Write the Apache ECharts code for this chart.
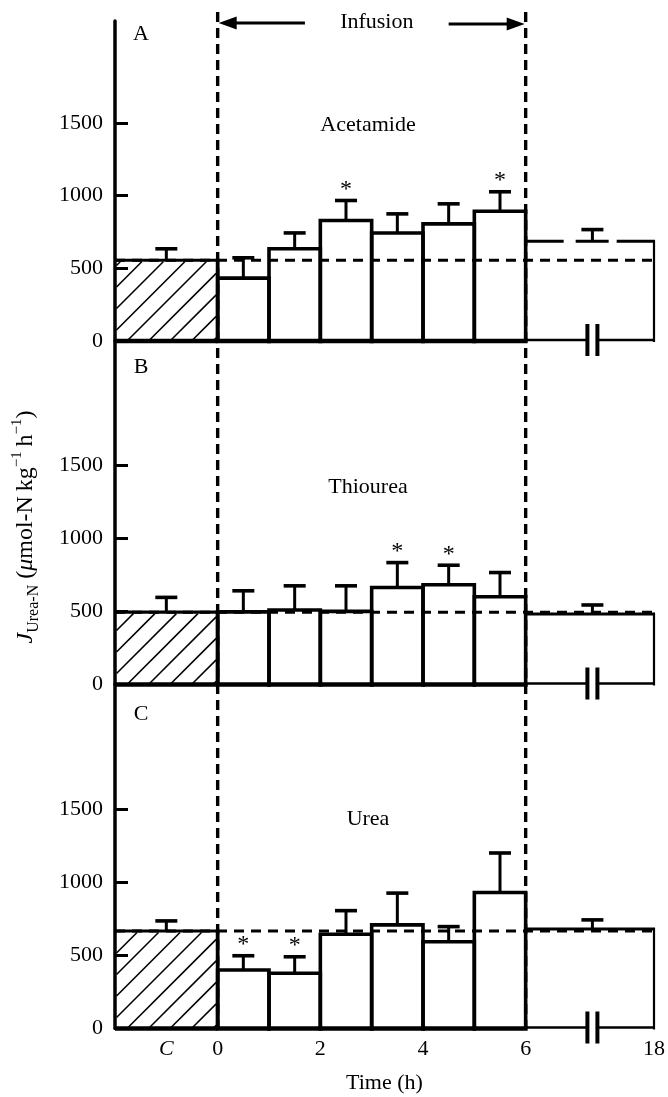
<!DOCTYPE html>
<html>
<head>
<meta charset="utf-8">
<script src="https://cdn.jsdelivr.net/npm/echarts@6/dist/echarts.min.js"></script>
<style>
  html, body { margin: 0; padding: 0; background: #fff; }
  #chart { width: 668px; height: 1097px; }
</style>
</head>
<body>
<div id="chart"></div>
<script>
// Urea-N excretion rate during control, 6 h infusion (hourly) and the 6-18 h post-infusion period
const SERIF = '"Liberation Serif", "Times New Roman", serif';

const yTickValues = [0, 500, 1000, 1500];
const xLabelValues = [-1, 0, 2, 4, 6, 8.5];
const xLabelTexts = ['C', '0', '2', '4', '6', '18'];

const panelLetters = ['A', 'B', 'C'];
const panelNames = ['Acetamide', 'Thiourea', 'Urea'];

// time slots on the x scale: control block, six hourly blocks, post-infusion block (axis broken, ends at 18 h)
const slotStart = [-2, 0, 1, 2, 3, 4, 5, 6];
const slotEnd   = [0, 1, 2, 3, 4, 5, 6, 8.5];
const errorAt   = [-1, 0.5, 1.5, 2.5, 3.5, 4.5, 5.5, 7.3];
const axisBreakAt = 7.3;

// mean ± s.e.m. (µmol-N kg-1 h-1); sig = 1 marks significant difference from control
const acetamideMean = [555, 432, 634, 828, 743, 805, 892, 685];
const acetamideSem  = [79, 140, 109, 138, 131, 138, 134, 81];
const acetamideSig  = [0, 0, 0, 1, 0, 0, 1, 0];

const thioureaMean = [495, 497, 510, 500, 664, 682, 600, 483];
const thioureaSem  = [101, 144, 165, 175, 170, 134, 166, 61];
const thioureaSig  = [0, 0, 0, 0, 1, 1, 0, 0];

const ureaMean = [666, 400, 377, 644, 708, 593, 929, 680];
const ureaSem  = [69, 97, 113, 161, 217, 103, 270, 62];
const ureaSig  = [0, 1, 1, 0, 0, 0, 0, 0];

const panelMeans = [acetamideMean, thioureaMean, ureaMean];
const panelSems = [acetamideSem, thioureaSem, ureaSem];
const panelSigs = [acetamideSig, thioureaSig, ureaSig];

// layout of the three stacked panels
const gridLeft = 115, gridRight = 14;
const gridTop = [21, 341, 684.5];
const gridHeight = [320, 343.5, 344];
const yMax = [2200, 2350, 2350];

function buildData(p) {
  return slotStart.map((s, i) => [
    s, slotEnd[i], panelMeans[p][i], panelSems[p][i], errorAt[i], panelSigs[p][i],
    i === 0 ? 0 : (i === slotStart.length - 1 ? 2 : 1)
  ]);
}

function makeBarRenderer(brokenTop) {
  return function (params, api) {
    const x0 = api.value(0), x1 = api.value(1), v = api.value(2), sem = api.value(3);
    const ex = api.value(4), sig = api.value(5), kind = api.value(6);
    const tl = api.coord([x0, v]);
    const br = api.coord([x1, 0]);
    const left = tl[0], top = tl[1], right = br[0], base = br[1];
    const black = '#000';
    const children = [];
    const line = (xa, ya, xb, yb, w, dash) => ({
      type: 'line',
      shape: { x1: xa, y1: ya, x2: xb, y2: yb },
      style: { stroke: black, lineWidth: w, lineDash: dash || null, lineCap: 'butt' }
    });

    if (kind === 0) {
      // diagonal hatching of the control block
      const step = 21.5;
      const y0 = top + 1.5, y1 = base - 1, xa0 = left + 1.5, xa1 = right - 1.5;
      const c0 = left + 13 + y1;
      let c = c0 - step * Math.floor((c0 - (xa0 + y0)) / step);
      for (; c <= xa1 + y1; c += step) {
        const xa = Math.max(xa0, c - y1), xb = Math.min(xa1, c - y0);
        if (xb - xa > 0.5) children.push(line(xa, c - xa, xb, c - xb, 1.6));
      }
      children.push(line(left, top, right + 1.5, top, 3.2));
      children.push(line(right, top - 1.5, right, base, 3.8));
      children.push(line(left, base, right, base, 4.6));
    } else if (kind === 1) {
      children.push({
        type: 'polyline',
        shape: { points: [[left, base], [left, top], [right, top], [right, base]] },
        style: { stroke: black, lineWidth: 3.6, fill: null, lineJoin: 'miter' }
      });
      children.push(line(left - 2, base, right + 2, base, 4.6));
    } else {
      const bx = api.coord([axisBreakAt, 0])[0];
      children.push(line(left, top, right + 1, top, 3, brokenTop ? [38, 12, 33, 8, 60] : null));
      children.push(line(right, top - 1, right, base + 1, 2.2));
      children.push(line(left, base - 1, bx - 5, base - 1, 2.6));
      children.push(line(bx + 5, base - 1, right + 1, base - 1, 2.6));
      children.push(line(bx - 5, base - 17, bx - 5, base + 15, 4));
      children.push(line(bx + 5, base - 17, bx + 5, base + 15, 4));
    }

    // error bar (upper s.e.m.)
    const cap = api.coord([ex, v + sem]);
    children.push(line(cap[0], top, cap[0], cap[1], 3));
    children.push(line(cap[0] - 11, cap[1], cap[0] + 11, cap[1], 3.6));

    if (sig) {
      children.push({
        type: 'text',
        style: {
          text: '*', x: cap[0], y: cap[1] - 11,
          fontFamily: SERIF, fontSize: 24, fill: black,
          align: 'center', verticalAlign: 'middle',
          textAlign: 'center', textVerticalAlign: 'middle'
        }
      });
    }
    return { type: 'group', children: children };
  };
}

const grids = [], xAxes = [], yAxes = [], series = [];
for (let p = 0; p < 3; p++) {
  grids.push({ left: gridLeft, right: gridRight, top: gridTop[p], height: gridHeight[p] });
  const bottom = p === 2;
  xAxes.push({
    type: 'value', gridIndex: p, min: -2, max: 8.5,
    axisLine: { show: false, onZero: false }, axisTick: { show: false }, splitLine: { show: false },
    axisLabel: bottom ? {
      show: true, customValues: xLabelValues, margin: 10,
      color: '#000', fontFamily: SERIF, fontSize: 22,
      formatter: (val) => {
        const i = xLabelValues.indexOf(val);
        const t = i >= 0 ? xLabelTexts[i] : '';
        return i === 0 ? '{i|' + t + '}' : t;
      },
      rich: { i: { fontStyle: 'italic', fontFamily: SERIF, fontSize: 22, color: '#000' } }
    } : { show: false },
    name: bottom ? 'Time (h)' : '',
    nameLocation: 'middle', nameGap: 44,
    nameTextStyle: { color: '#000', fontFamily: SERIF, fontSize: 22 }
  });
  yAxes.push({
    type: 'value', gridIndex: p, min: 0, max: yMax[p],
    axisLine: { show: true, onZero: false, lineStyle: { color: '#000', width: 3.5 } },
    axisTick: { show: true, inside: true, length: 13, customValues: yTickValues, lineStyle: { color: '#000', width: 3 } },
    axisLabel: {
      show: true, customValues: yTickValues, margin: 12, color: '#000', fontFamily: SERIF, fontSize: 22,
      formatter: (val) => String(val)
    },
    splitLine: { show: false }
  });
  // control-level reference line
  series.push({
    type: 'line', xAxisIndex: p, yAxisIndex: p, silent: true, z: 1,
    symbol: 'none', animation: false,
    data: [[-2, panelMeans[p][0]], [8.5, panelMeans[p][0]]],
    lineStyle: { color: '#000', width: 3, type: [10, 7] }
  });
  series.push({
    type: 'custom', xAxisIndex: p, yAxisIndex: p, silent: true, z: 3, clip: false,
    animation: false,
    renderItem: makeBarRenderer(p === 0),
    data: buildData(p)
  });
}

const chart = echarts.init(document.getElementById('chart'), null, { renderer: 'canvas' });
chart.setOption({
  backgroundColor: '#fff',
  animation: false,
  grid: grids, xAxis: xAxes, yAxis: yAxes, series: series
});

// annotations placed from the axis scale
const px = (t) => chart.convertToPixel({ xAxisIndex: 0 }, t);
const xStart = px(0), xStop = px(6);
const arrowY = 23;
const arrowTailLeft = px(1.7), arrowTailRight = px(4.5);
const txt = (text, x, y, extra) => ({
  type: 'text', x: x, y: y, z: 10,
  style: Object.assign({
    text: text, fontFamily: SERIF, fontSize: 22, fill: '#000',
    align: 'center', verticalAlign: 'middle', textAlign: 'center', textVerticalAlign: 'middle'
  }, extra || {})
});

const graphics = [];
[xStart, xStop].forEach((x) => {
  graphics.push({
    type: 'line', z: 0, silent: true,
    shape: { x1: x, y1: 12, x2: x, y2: 1029 },
    style: { stroke: '#000', lineWidth: 3.4, lineDash: [10, 6] }
  });
});
// infusion arrows
graphics.push({ type: 'line', shape: { x1: xStart + 12, y1: arrowY, x2: arrowTailLeft, y2: arrowY }, style: { stroke: '#000', lineWidth: 3 } });
graphics.push({ type: 'polygon', shape: { points: [[xStart + 1, arrowY], [xStart + 19, arrowY - 6.5], [xStart + 19, arrowY + 6.5]] }, style: { fill: '#000' } });
graphics.push({ type: 'line', shape: { x1: arrowTailRight, y1: arrowY + 1, x2: xStop - 12, y2: arrowY + 1 }, style: { stroke: '#000', lineWidth: 3 } });
graphics.push({ type: 'polygon', shape: { points: [[xStop - 1, arrowY + 1], [xStop - 19, arrowY - 5.5], [xStop - 19, arrowY + 7.5]] }, style: { fill: '#000' } });
graphics.push(txt('Infusion', (arrowTailLeft + arrowTailRight) / 2, 22.5));

const letterY = [34.5, 367.5, 714.5];
const titleY = [125.5, 487.5, 819.5];
for (let p = 0; p < 3; p++) {
  graphics.push(txt(panelLetters[p], 141, letterY[p]));
  graphics.push(txt(panelNames[p], 368, titleY[p]));
}

// y-axis title J_Urea-N (µmol-N kg-1 h-1)
graphics.push({
  type: 'text', x: 26, y: 527, rotation: Math.PI / 2, z: 10,
  style: {
    text: '{j|J}{s|Urea-N}{n| (}{m|\u03bc}{n|mol-N\u2009kg}{p|\u22121}{n|\u2009h}{p|\u22121}{n|)}',
    align: 'center', verticalAlign: 'middle', textAlign: 'center', textVerticalAlign: 'middle',
    fill: '#000',
    rich: {
      j: { fontFamily: SERIF, fontSize: 24, fontStyle: 'italic', lineHeight: 32, fill: '#000', color: '#000' },
      s: { fontFamily: SERIF, fontSize: 16, lineHeight: 24, verticalAlign: 'bottom', fill: '#000', color: '#000' },
      n: { fontFamily: SERIF, fontSize: 24, lineHeight: 32, fill: '#000', color: '#000' },
      m: { fontFamily: SERIF, fontSize: 24, fontStyle: 'italic', lineHeight: 32, fill: '#000', color: '#000' },
      p: { fontFamily: SERIF, fontSize: 15, lineHeight: 20, verticalAlign: 'top', fill: '#000', color: '#000' }
    }
  }
});

chart.setOption({ graphic: { elements: graphics } });
</script>
</body>
</html>
